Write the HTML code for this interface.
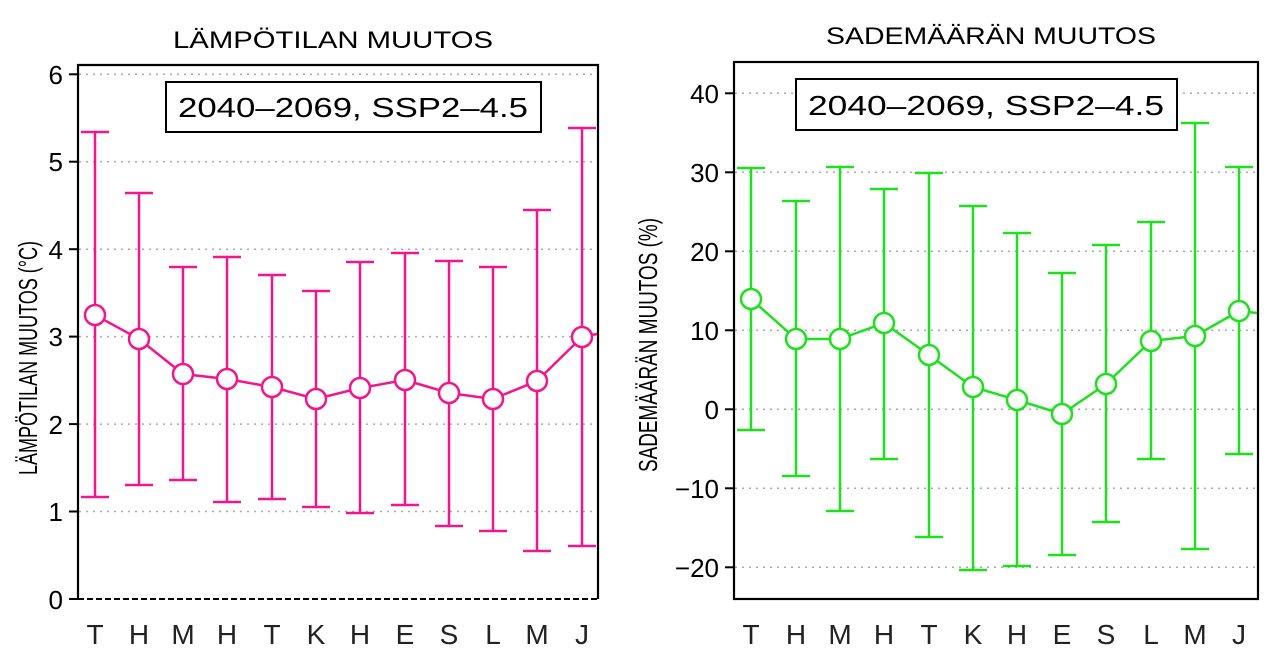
<!DOCTYPE html><html><head><style>body{margin:0;background:#fff}svg{display:block}</style></head><body>
<svg width="1280" height="653" viewBox="0 0 1280 653" xmlns="http://www.w3.org/2000/svg" font-family="Liberation Sans, sans-serif">
<rect width="1280" height="653" fill="#fff"/>
<!-- LEFT -->
<g stroke="#aaa" stroke-width="1.5" stroke-dasharray="2,5">
<line x1="79" x2="597" y1="74.3" y2="74.3"/><line x1="79" x2="597" y1="161.7" y2="161.7"/><line x1="79" x2="597" y1="249.2" y2="249.2"/><line x1="79" x2="597" y1="336.6" y2="336.6"/><line x1="79" x2="597" y1="424.1" y2="424.1"/><line x1="79" x2="597" y1="511.5" y2="511.5"/>
</g>
<line x1="78" x2="598" y1="599" y2="599" stroke="#000" stroke-width="2" stroke-dasharray="6,3"/>
<path d="M78 599V65H598V599" fill="none" stroke="#000" stroke-width="2.2"/>
<g stroke="#000" stroke-width="2"><line x1="69" x2="78" y1="74.3" y2="74.3"/><line x1="69" x2="78" y1="161.7" y2="161.7"/><line x1="69" x2="78" y1="249.2" y2="249.2"/><line x1="69" x2="78" y1="336.6" y2="336.6"/><line x1="69" x2="78" y1="424.1" y2="424.1"/><line x1="69" x2="78" y1="511.5" y2="511.5"/><line x1="69" x2="78" y1="599" y2="599"/></g>
<g font-size="26" text-anchor="end" fill="#000"><text x="63" y="84">6</text><text x="63" y="171">5</text><text x="63" y="259">4</text><text x="63" y="346">3</text><text x="63" y="434">2</text><text x="63" y="521">1</text><text x="63" y="609">0</text></g>
<text x="333" y="48" font-size="24" text-anchor="middle" textLength="320" lengthAdjust="spacingAndGlyphs">LÄMPÖTILAN MUUTOS</text>
<text transform="translate(37,358) rotate(-90)" font-size="26" text-anchor="middle" textLength="234" lengthAdjust="spacingAndGlyphs">LÄMPÖTILAN MUUTOS (°C)</text>
<rect x="166" y="82" width="375" height="50" fill="#fff" stroke="#000" stroke-width="2"/>
<text x="353" y="117" font-size="28" text-anchor="middle" textLength="350" lengthAdjust="spacingAndGlyphs">2040–2069, SSP2–4.5</text>
<g font-size="28" text-anchor="middle" fill="#222"><text x="95" y="644">T</text><text x="139" y="644">H</text><text x="183" y="644">M</text><text x="227" y="644">H</text><text x="272" y="644">T</text><text x="316" y="644">K</text><text x="360" y="644">H</text><text x="405" y="644">E</text><text x="449" y="644">S</text><text x="493" y="644">L</text><text x="537" y="644">M</text><text x="582" y="644">J</text></g>
<g stroke="#f0168c" stroke-width="2.5" fill="none">
<path d="M95 132V497M81 132H109M81 497H109M139 193V485M125 193H153M125 485H153M183 267V480M169 267H197M169 480H197M227 257V502M213 257H241M213 502H241M272 275V499M258 275H286M258 499H286M316 291V507M302 291H330M302 507H330M360 262V513M346 262H374M346 513H374M405 253V505M391 253H419M391 505H419M449 261V526M435 261H463M435 526H463M493 267V531M479 267H507M479 531H507M537 210V551M523 210H551M523 551H551M582 128V546M568 128H596M568 546H596"/>
<path d="M95 315L139 339L183 374L227 379L272 387L316 399L360 388L405 380L449 393L493 399L537 381L582 337L597 334"/>
<g fill="#fff"><circle cx="95" cy="315" r="10"/><circle cx="139" cy="339" r="10"/><circle cx="183" cy="374" r="10"/><circle cx="227" cy="379" r="10"/><circle cx="272" cy="387" r="10"/><circle cx="316" cy="399" r="10"/><circle cx="360" cy="388" r="10"/><circle cx="405" cy="380" r="10"/><circle cx="449" cy="393" r="10"/><circle cx="493" cy="399" r="10"/><circle cx="537" cy="381" r="10"/><circle cx="582" cy="337" r="10"/></g>
</g>
<!-- RIGHT -->
<g stroke="#aaa" stroke-width="1.5" stroke-dasharray="2,5">
<line x1="735" x2="1257" y1="93.3" y2="93.3"/><line x1="735" x2="1257" y1="172.3" y2="172.3"/><line x1="735" x2="1257" y1="251.3" y2="251.3"/><line x1="735" x2="1257" y1="330.3" y2="330.3"/><line x1="735" x2="1257" y1="409.3" y2="409.3"/><line x1="735" x2="1257" y1="488.3" y2="488.3"/><line x1="735" x2="1257" y1="567.3" y2="567.3"/>
</g>
<rect x="734" y="62" width="524" height="537" fill="none" stroke="#000" stroke-width="2.2"/>
<g stroke="#000" stroke-width="2"><line x1="725" x2="734" y1="93.3" y2="93.3"/><line x1="725" x2="734" y1="172.3" y2="172.3"/><line x1="725" x2="734" y1="251.3" y2="251.3"/><line x1="725" x2="734" y1="330.3" y2="330.3"/><line x1="725" x2="734" y1="409.3" y2="409.3"/><line x1="725" x2="734" y1="488.3" y2="488.3"/><line x1="725" x2="734" y1="567.3" y2="567.3"/></g>
<g font-size="26" text-anchor="end" fill="#000"><text x="719" y="103">40</text><text x="719" y="182">30</text><text x="719" y="261">20</text><text x="719" y="340">10</text><text x="719" y="419">0</text><text x="719" y="498">−10</text><text x="719" y="577">−20</text></g>
<text x="991" y="44" font-size="24" text-anchor="middle" textLength="330" lengthAdjust="spacingAndGlyphs">SADEMÄÄRÄN MUUTOS</text>
<text transform="translate(657,345) rotate(-90)" font-size="26" text-anchor="middle" textLength="254" lengthAdjust="spacingAndGlyphs">SADEMÄÄRÄN MUUTOS (%)</text>
<rect x="796" y="79" width="381" height="51" fill="#fff" stroke="#000" stroke-width="2"/>
<text x="986" y="115" font-size="28" text-anchor="middle" textLength="356" lengthAdjust="spacingAndGlyphs">2040–2069, SSP2–4.5</text>
<g font-size="28" text-anchor="middle" fill="#222"><text x="751" y="644">T</text><text x="796" y="644">H</text><text x="840" y="644">M</text><text x="884" y="644">H</text><text x="929" y="644">T</text><text x="973" y="644">K</text><text x="1017" y="644">H</text><text x="1062" y="644">E</text><text x="1106" y="644">S</text><text x="1151" y="644">L</text><text x="1195" y="644">M</text><text x="1239" y="644">J</text></g>
<g stroke="#1ee01e" stroke-width="2.5" fill="none">
<path d="M751 168V430M737 168H765M737 430H765M796 201V476M782 201H810M782 476H810M840 167V511M826 167H854M826 511H854M884 189V459M870 189H898M870 459H898M929 173V537M915 173H943M915 537H943M973 206V570M959 206H987M959 570H987M1017 233V566M1003 233H1031M1003 566H1031M1062 273V555M1048 273H1076M1048 555H1076M1106 245V522M1092 245H1120M1092 522H1120M1151 222V459M1137 222H1165M1137 459H1165M1195 123V549M1181 123H1209M1181 549H1209M1239 167V454M1225 167H1253M1225 454H1253"/>
<path d="M751 299L796 339L840 339L884 323L929 355L973 387L1017 400L1062 414L1106 384L1151 341L1195 336L1239 311L1257 313"/>
<g fill="#fff"><circle cx="751" cy="299" r="10"/><circle cx="796" cy="339" r="10"/><circle cx="840" cy="339" r="10"/><circle cx="884" cy="323" r="10"/><circle cx="929" cy="355" r="10"/><circle cx="973" cy="387" r="10"/><circle cx="1017" cy="400" r="10"/><circle cx="1062" cy="414" r="10"/><circle cx="1106" cy="384" r="10"/><circle cx="1151" cy="341" r="10"/><circle cx="1195" cy="336" r="10"/><circle cx="1239" cy="311" r="10"/></g>
</g>
</svg>
</body></html>
